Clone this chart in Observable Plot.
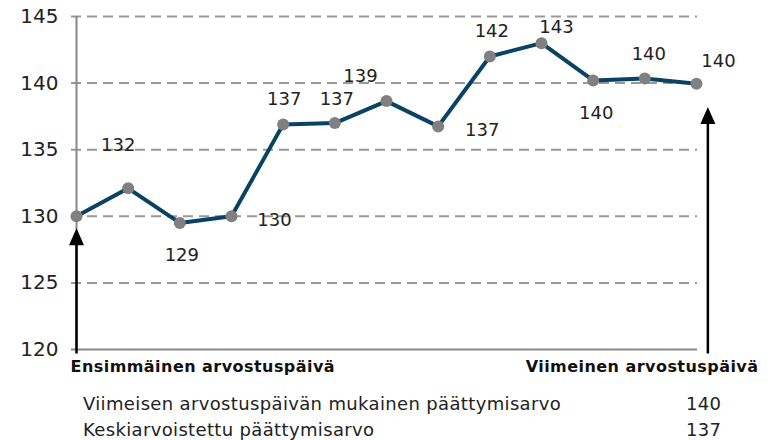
<!DOCTYPE html>
<html><head><meta charset="utf-8">
<script src="https://cdn.jsdelivr.net/npm/d3@7"></script>
<script src="https://cdn.jsdelivr.net/npm/@observablehq/plot@0.6"></script>
<style>
body{margin:0;background:#fff;font-family:"DejaVu Sans",sans-serif;}
#wrap{position:relative;width:771px;height:440px;overflow:hidden;}
#wrap svg{display:block;}
.row{position:absolute;font-size:18px;letter-spacing:0.35px;color:#222;line-height:20px;white-space:nowrap;}
</style></head><body><div id="wrap"></div>
<script>
// ---- data ----
const obsIndex = [0,1,2,3,4,5,6,7,8,9,10,11,12];
const values = [130.0,132.1,129.5,130.0,136.9,137.0,138.65,136.75,142.0,143.0,140.2,140.35,139.95];
const valueLabels = ["","132","129","130","137","137","139","137","142","143","140","140","140"];
const yTicks = [120,125,130,135,140,145];
const gridTicks = [125,130,135,140,145];
const endLabels = ["Ensimmäinen arvostuspäivä","Viimeinen arvostuspäivä"];
const summaryNames = ["Viimeisen arvostuspäivän mukainen päättymisarvo","Keskiarvoistettu päättymisarvo"];
const summaryValues = [140, 137];
const arrowX = [0, 12.22];
const arrowTip = [129.1, 138.2];
const arrowBase = 119.7;

// ---- layout (label offsets in px) ----
const labelOffsets = [[0,0],[-10,-43],[2,32],[43,4],[1,-25],[2,-24],[-26,-25],[44,4],[2,-25],[15,-16],[3,33],[4,-24],[22,-23]];

const pts = obsIndex.map((x,i)=>({x, y: values[i], label: valueLabels[i]}));
const arrows = arrowX.map((x,i)=>({x, y1: arrowBase, y2: arrowTip[i]}));

const headSymbol = {draw(ctx){ ctx.moveTo(0,0); ctx.lineTo(7.5,17); ctx.lineTo(-7.5,17); ctx.closePath(); }};

const labelMarks = pts.map((d,i)=> d.label ? Plot.text([d], {x:"x", y:"y", text:"label", dx: labelOffsets[i][0], dy: labelOffsets[i][1], fontSize:18, fill:"#222", style:"letter-spacing:0.6px"}) : null).filter(Boolean);

const chart = Plot.plot({
  width: 771, height: 390,
  marginLeft: 76, marginRight: 75, marginTop: 16, marginBottom: 41,
  style: {fontFamily: '"DejaVu Sans", sans-serif', background: "#fff", overflow: "visible"},
  x: {domain: [0,12], axis: null},
  y: {domain: [120,145], axis: null},
  marks: [
    Plot.ruleY(gridTicks, {stroke:"#999", strokeWidth:2, strokeDasharray:"10,6", insetLeft:-5, insetRight:-1}),
    Plot.ruleY([yTicks[0]], {stroke:"#888", strokeWidth:2, insetLeft:-5, insetRight:-1}),
    Plot.ruleX([0], {y1:120, y2:145, stroke:"#888", strokeWidth:2}),
    Plot.axisY(yTicks, {tickSize:0, tickPadding:18, fontSize:20, fill:"#222"}),
    Plot.line(pts, {x:"x", y:"y", stroke:"#0a4263", strokeWidth:4}),
    Plot.dot(pts, {x:"x", y:"y", r:6, fill:"#808080", stroke:"none"}),
    ...labelMarks,
    Plot.link(arrows, {x1:"x", x2:"x", y1:"y1", y2:d=>d.y2 - 0.4, stroke:"#000", strokeWidth:2.5}),
    Plot.dot(arrows, {x:"x", y:"y2", symbol: headSymbol, r:5, fill:"#000", stroke:"none"}),
    Plot.text([endLabels[0]], {x: ()=>0, y: ()=>120, text: d=>d, dx:-6, dy:17, textAnchor:"start", fontSize:16, fontWeight:"bold", fill:"#111"}),
    Plot.text([endLabels[1]], {x: ()=>12, y: ()=>120, text: d=>d, dx:62, dy:17, textAnchor:"end", fontSize:16, fontWeight:"bold", fill:"#111"})
  ]
});
chart.querySelectorAll("text").forEach(t=>{ if (endLabels.includes(t.textContent)) t.style.letterSpacing = "0.45px"; });
const wrap = document.getElementById("wrap");
wrap.appendChild(chart);
summaryNames.forEach((name,i)=>{
  const a = document.createElement("div");
  a.className = "row"; a.textContent = name;
  a.style.left = "83px"; a.style.top = (394 + i*26) + "px";
  wrap.appendChild(a);
  const b = document.createElement("div");
  b.className = "row"; b.textContent = String(summaryValues[i]);
  b.style.left = "686px"; b.style.top = (394 + i*26) + "px";
  wrap.appendChild(b);
});
</script></body></html>
